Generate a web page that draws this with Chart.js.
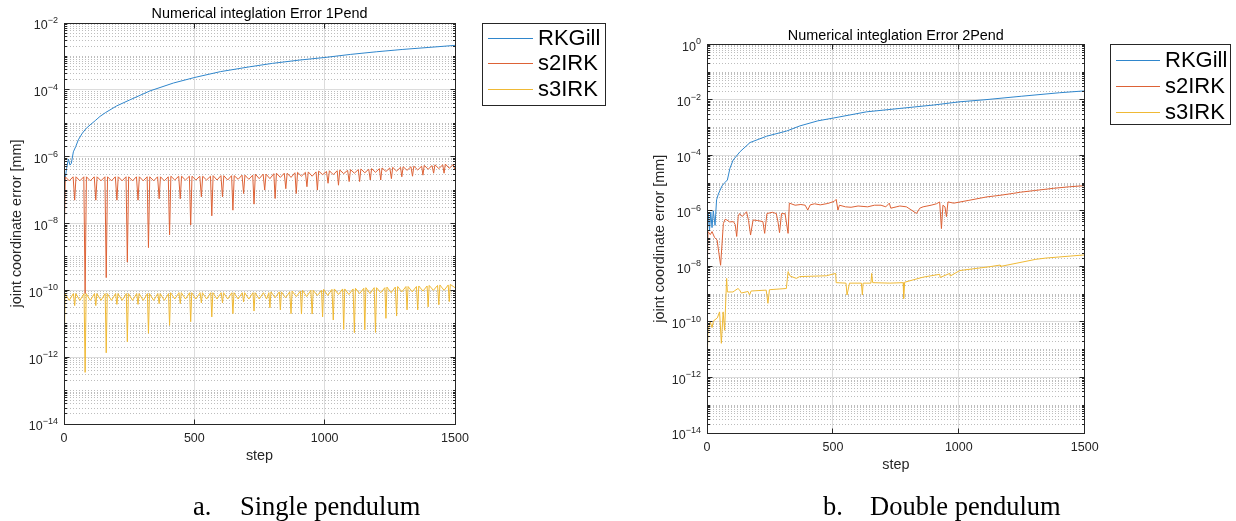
<!DOCTYPE html>
<html>
<head>
<meta charset="utf-8">
<script src="https://cdn.jsdelivr.net/npm/chart.js@4.4.1/dist/chart.umd.min.js"></script>
<style>
  html, body { margin: 0; padding: 0; background: #fff; }
  #wrap { position: relative; width: 1236px; height: 521px; overflow: hidden; }
  canvas { position: absolute; top: 0; }
  #single { left: 0; }
  #double { left: 618px; }
  .cap { position: absolute; top: 491px; font-family: "Liberation Serif", "Times New Roman", serif;
         font-size: 26.5px; line-height: 30px; color: #000; white-space: nowrap; }
</style>
</head>
<body>
<div id="wrap">
  <canvas id="single" width="618" height="521"></canvas>
  <canvas id="double" width="618" height="521"></canvas>
  <div class="cap" style="left:193px">a.</div>
  <div class="cap" style="left:240px">Single pendulum</div>
  <div class="cap" style="left:823px">b.</div>
  <div class="cap" style="left:870px">Double pendulum</div>
</div>
<script>
// --- data ---
const seriesNames = ["RKGill", "s2IRK", "s3IRK"];
const xTickValues = [0, 500, 1000, 1500];
const yExpSingle = [-14, -12, -10, -8, -6, -4, -2];
const yExpDouble = [-14, -12, -10, -8, -6, -4, -2, 0];

// a. single pendulum
const stepsRkSingle = [0, 4, 10, 17, 23, 28, 36, 45, 55, 70, 85, 100, 120, 138, 160, 202, 250, 330, 420, 502,
  600, 713, 800, 905, 1001, 1100, 1200, 1300, 1400, 1500];
const rkSingle = [1.3e-7, 2e-7, 4.5e-7, 8.5e-7, 5.6e-7, 6.3e-7, 1.4e-6, 2e-6, 3.2e-6, 5e-6, 7e-6, 8.9e-6, 1.2e-5,
  1.6e-5, 2.1e-5, 3.3e-5, 4.9e-5, 9.3e-5, 1.6e-4, 2.35e-4, 3.5e-4, 4.9e-4, 6.2e-4, 7.8e-4, 9.3e-4, 1.15e-3,
  1.38e-3, 1.62e-3, 1.86e-3, 2.14e-3];

const stepsS2Single = [
  0, 5, 20, 35, 41, 46, 61, 76, 81, 86, 101, 116, 122, 127, 142, 157, 162, 167, 182, 197,
  203, 208, 223, 238, 243, 248, 263, 278, 284, 289, 304, 319, 324, 329, 344, 359, 365, 370, 385, 400,
  405, 410, 425, 440, 446, 451, 466, 481, 486, 491, 506, 521, 527, 532, 547, 562, 567, 572, 587, 602,
  608, 613, 628, 643, 648, 653, 668, 683, 689, 694, 709, 724, 729, 734, 749, 764, 770, 775, 790, 805,
  810, 815, 830, 845, 851, 856, 871, 886, 891, 896, 911, 926, 932, 937, 952, 967, 972, 977, 992, 1007,
  1013, 1018, 1033, 1048, 1053, 1058, 1073, 1088, 1094, 1099, 1114, 1129, 1134, 1139, 1154, 1169,
  1175, 1180, 1195, 1210, 1215, 1220, 1235, 1250, 1256, 1261, 1276, 1291, 1296, 1301, 1316, 1331,
  1337, 1342, 1357, 1372, 1377, 1382, 1397, 1412, 1418, 1423, 1438, 1453, 1458, 1463, 1478, 1493, 1500];
const s2Single = [
  1.6e-9, 2.5e-7, 1.9e-7, 2.5e-7, 5e-8, 2.5e-7, 1.9e-7, 2.5e-7, 8e-11, 2.5e-7, 1.9e-7, 2.5e-7,
  5e-8, 2.5e-7, 1.9e-7, 2.5e-7, 2.4e-10, 2.5e-7, 1.9e-7, 2.5e-7, 5e-8, 2.5e-7, 1.9e-7, 2.5e-7,
  7e-10, 2.5e-7, 1.9e-7, 2.5e-7, 5e-8, 2.5e-7, 1.9e-7, 2.5e-7, 1.9e-9, 2.5e-7, 1.9e-7, 2.5e-7,
  5.5e-8, 2.5e-7, 1.9e-7, 2.5e-7, 4.6e-9, 2.6e-7, 2e-7, 2.6e-7, 5.5e-8, 2.6e-7, 2e-7, 2.6e-7,
  9e-9, 2.6e-7, 2e-7, 2.6e-7, 6.3e-8, 2.6e-7, 2e-7, 2.6e-7, 1.7e-8, 2.7e-7, 2e-7, 2.7e-7,
  6.3e-8, 2.7e-7, 2e-7, 2.7e-7, 2.5e-8, 2.7e-7, 2.1e-7, 2.8e-7, 7.9e-8, 2.8e-7, 2.1e-7, 2.8e-7,
  3.8e-8, 3e-7, 2.2e-7, 3e-7, 1e-7, 3e-7, 2.2e-7, 3.1e-7, 5.6e-8, 3.2e-7, 2.4e-7, 3.2e-7,
  1.1e-7, 3.2e-7, 2.4e-7, 3.3e-7, 7.9e-8, 3.4e-7, 2.6e-7, 3.4e-7, 1.26e-7, 3.5e-7, 2.6e-7, 3.5e-7,
  1e-7, 3.7e-7, 2.9e-7, 3.6e-7, 1.6e-7, 3.8e-7, 2.9e-7, 3.8e-7, 1.4e-7, 4e-7, 3.1e-7, 3.9e-7,
  1.8e-7, 4.1e-7, 3.2e-7, 4.1e-7, 1.8e-7, 4.3e-7, 3.3e-7, 4.2e-7, 2e-7, 4.4e-7, 3.4e-7, 4.4e-7,
  2e-7, 4.6e-7, 3.6e-7, 4.6e-7, 2.2e-7, 4.8e-7, 3.7e-7, 4.8e-7, 2.5e-7, 5e-7, 3.9e-7, 5e-7,
  2.6e-7, 5.2e-7, 4e-7, 5.2e-7, 2.8e-7, 5.5e-7, 4.2e-7, 5.4e-7, 3.2e-7, 5.7e-7, 4.4e-7, 5.7e-7,
  3.2e-7, 6e-7, 4.5e-7, 5.8e-7, 4e-7];

const stepsS3Single = [
  0, 4, 20, 36, 41, 45, 61, 77, 81, 85, 101, 117, 122, 126, 142, 158, 162, 166, 182, 198,
  203, 207, 223, 239, 243, 247, 263, 279, 284, 288, 304, 320, 324, 328, 344, 360, 365, 369, 385, 401,
  405, 409, 425, 441, 446, 450, 466, 482, 486, 490, 506, 522, 527, 531, 547, 563, 567, 571, 587, 603,
  608, 612, 628, 644, 648, 652, 668, 684, 689, 693, 709, 725, 729, 733, 749, 765, 777, 786,
  790, 794, 810, 826, 830, 834, 850, 866, 871, 875, 891, 907, 911, 915, 931, 947, 952, 956, 972, 988,
  992, 996, 1012, 1028, 1033, 1037, 1053, 1069, 1073, 1077, 1093, 1109, 1114, 1118, 1134, 1150,
  1154, 1158, 1174, 1190, 1195, 1199, 1215, 1231, 1235, 1239, 1255, 1271, 1276, 1280, 1296, 1312,
  1316, 1320, 1336, 1352, 1357, 1361, 1377, 1393, 1397, 1401, 1417, 1433, 1438, 1442, 1458, 1474,
  1478, 1482, 1500];
const s3Single = [
  3e-13, 8e-11, 5e-11, 8e-11, 3.5e-11, 8e-11, 5e-11, 8e-11, 3.5e-13, 8e-11, 5e-11, 8e-11,
  3.5e-11, 8e-11, 5e-11, 8e-11, 1.35e-12, 8e-11, 5e-11, 8e-11, 3.8e-11, 8e-11, 5e-11, 8e-11,
  2.9e-12, 8e-11, 5e-11, 8e-11, 3.8e-11, 8e-11, 5e-11, 8e-11, 5.2e-12, 8e-11, 5e-11, 8e-11,
  4e-11, 8e-11, 5e-11, 8e-11, 9e-12, 8.5e-11, 5.5e-11, 8.5e-11, 4e-11, 8.5e-11, 5.5e-11, 8.5e-11,
  1.15e-11, 8.5e-11, 5.5e-11, 8.5e-11, 4.2e-11, 8.5e-11, 5.5e-11, 8.5e-11, 1.6e-11, 8.5e-11, 5.5e-11, 8.5e-11,
  4.2e-11, 8.5e-11, 5.5e-11, 8.5e-11, 2e-11, 8.5e-11, 5.5e-11, 8.5e-11, 4.5e-11, 8.5e-11, 5.5e-11, 8.5e-11,
  2.4e-11, 8.5e-11, 5.5e-11, 8.5e-11, 5.5e-11, 8.5e-11,
  3e-11, 9e-11, 6e-11, 9e-11, 2.6e-11, 9e-11, 6e-11, 9e-11, 2e-11, 9.5e-11, 6.5e-11, 9.5e-11,
  1.95e-11, 1e-10, 6.5e-11, 1e-10, 1.95e-11, 1e-10, 7e-11, 1e-10, 1.6e-11, 1.07e-10, 7e-11, 1.07e-10,
  1.3e-11, 1.1e-10, 7.5e-11, 1.1e-10, 6.8e-12, 1.1e-10, 7.5e-11, 1.1e-10, 5.4e-12, 1.15e-10, 8e-11, 1.15e-10,
  6.6e-12, 1.2e-10, 8e-11, 1.2e-10, 5.5e-12, 1.2e-10, 8.5e-11, 1.2e-10, 1.45e-11, 1.25e-10, 8.5e-11, 1.25e-10,
  1.7e-11, 1.3e-10, 9e-11, 1.3e-10, 2.6e-11, 1.3e-10, 9e-11, 1.3e-10, 2.6e-11, 1.35e-10, 9.5e-11, 1.35e-10,
  3.2e-11, 1.4e-10, 1e-10, 1.4e-10, 3.7e-11, 1.45e-10, 1e-10, 1.45e-10, 4.6e-11, 1.5e-10, 1.2e-10];

// b. double pendulum
const stepsRkDouble = [0, 5, 10, 15, 20, 25, 32, 38, 45, 52, 60, 71, 81, 91, 104, 131, 171, 237, 316, 369,
  440, 501, 634, 766, 900, 1004, 1100, 1250, 1400, 1500];
const rkDouble = [1e-7, 8e-7, 2e-7, 9e-7, 2.5e-7, 1e-6, 3e-7, 2.5e-6, 4e-6, 5.6e-6, 8e-6, 1.05e-5, 1.3e-5,
  3.4e-5, 6.8e-5, 1.35e-4, 2.9e-4, 4.9e-4, 7.5e-4, 1.15e-3, 1.75e-3, 2.2e-3, 3.7e-3, 4.9e-3, 6.5e-3,
  8.5e-3, 1e-2, 1.35e-2, 1.8e-2, 2.1e-2];

const stepsS2Double = [0, 4, 13, 20, 30, 40, 54, 65, 72, 79, 90, 105, 112, 118, 124, 129, 140, 157, 165, 173,
  183, 200, 222, 229, 238, 260, 275, 282, 288, 296, 310, 322, 327, 350, 373, 390, 400, 410, 427, 450,
  480, 505, 513, 520, 526, 550, 572, 600, 638, 665, 691, 710, 724, 730, 766, 792, 810, 832, 845, 858,
  890, 911, 924, 931, 937, 945, 951, 957, 980, 1040, 1112, 1160, 1218, 1244, 1300, 1376, 1440, 1500];
const s2Double = [2.1e-9, 1.8e-7, 1.4e-7, 1.8e-7, 1.1e-7, 9e-8, 1.1e-8, 3.5e-7, 5e-7, 4.7e-7,
  4e-7, 4.1e-7, 3.2e-7, 1.2e-7, 6.3e-7, 8e-7, 6.3e-7, 9.3e-7, 4.5e-7, 1.35e-7,
  4.7e-7, 4.5e-7, 4.1e-7, 1.55e-7, 8e-7, 8.9e-7, 8e-7, 4e-7, 1.65e-7, 8e-7,
  7.9e-7, 1.55e-7, 1.9e-6, 1.6e-6, 1.7e-6, 1.6e-6, 1.07e-6, 1.65e-6, 1.8e-6, 1.65e-6,
  1.85e-6, 2.2e-6, 2.6e-6, 1.07e-6, 1.6e-6, 1.4e-6, 1.35e-6, 1.5e-6, 1.4e-6, 1.6e-6,
  1.6e-6, 1.4e-6, 1.9e-6, 1.25e-6, 1.5e-6, 1.4e-6, 1.1e-6, 8.1e-7, 1.25e-6, 1.4e-6,
  1.6e-6, 1.8e-6, 2.1e-6, 2.3e-7, 1.6e-6, 1.4e-6, 6.2e-7, 2.1e-6, 1.9e-6, 2.4e-6,
  3.2e-6, 3.6e-6, 4.3e-6, 4.7e-6, 5.4e-6, 6.5e-6, 7.4e-6, 8.1e-6];

const stepsS3Double = [0, 2, 4, 13, 20, 26, 32, 41, 50, 57, 64, 70, 78, 81, 103, 123, 130, 136, 163, 169,
  175, 235, 242, 248, 315, 322, 330, 355, 368, 474, 511, 513, 552, 556, 566, 613, 617, 620, 651, 654,
  658, 726, 779, 781, 785, 858, 924, 926, 964, 966, 1004, 1124, 1164, 1166, 1306, 1346, 1500];
const s3Double = [4e-13, 1e-11, 5.1e-11, 1e-10, 6.3e-11, 1.1e-10, 1.2e-10, 1.4e-10, 2.3e-10, 1.7e-11,
  2.3e-10, 5e-11, 3.7e-9, 1.2e-9, 1.2e-9, 1.6e-9, 1.4e-9, 1.1e-9, 1.25e-9, 9.3e-10,
  1.3e-9, 1.4e-9, 4.7e-10, 1.45e-9, 1.6e-9, 6.5e-9, 4.5e-9, 3.7e-9, 4.3e-9, 4.6e-9,
  5.6e-9, 2.6e-9, 2.5e-9, 9.3e-10, 2.5e-9, 2.5e-9, 9.3e-10, 2.5e-9, 2.5e-9, 5.6e-9,
  2.6e-9, 2.5e-9, 2.6e-9, 7e-10, 2.7e-9, 4.1e-9, 5.2e-9, 4e-9, 5.6e-9, 4.5e-9,
  7.1e-9, 9.8e-9, 1.12e-8, 1e-8, 1.8e-8, 2e-8, 2.6e-8];

// --- drawing ---
const SANS = '"Liberation Sans", Arial, Helvetica, sans-serif';
const INK = "#262626";
const lineColors = ["#2f86cc", "#dd6236", "#efb935"];
const pairs = (xs, ys) => xs.map((x, i) => ({ x: x, y: ys[i] }));
const align = v => Math.round(v - 0.5) + 0.5;

// MATLAB-like box, minor grid, ticks, labels and legend
function axesPlugin(cfg) {
  const lo = cfg.yExps[0], hi = cfg.yExps[cfg.yExps.length - 1];
  const minorValues = [];
  for (let e = lo; e < hi; e++) {
    for (let m = 1; m < 10; m++) {
      if (m === 1 && cfg.yExps.includes(e)) continue;
      minorValues.push(m * Math.pow(10, e));
    }
  }
  return {
    id: "matlabAxes",
    beforeDatasetsDraw(chart) {
      const { ctx, chartArea: a } = chart;
      const y = chart.scales.y;
      ctx.save();
      ctx.strokeStyle = "#bdbdbd";
      ctx.lineWidth = 1;
      ctx.setLineDash([1, 2]);
      minorValues.forEach(v => {
        const py = align(y.getPixelForValue(v));
        ctx.beginPath();
        ctx.moveTo(a.left, py);
        ctx.lineTo(a.right, py);
        ctx.stroke();
      });
      ctx.restore();
    },
    afterDraw(chart) {
      const { ctx, chartArea: a } = chart;
      const x = chart.scales.x, y = chart.scales.y;
      const L = align(a.left), R = align(a.right), T = align(a.top), B = align(a.bottom);
      ctx.save();
      ctx.setLineDash([]);

      // box
      ctx.strokeStyle = INK;
      ctx.lineWidth = 1;
      ctx.strokeRect(L, T, R - L, B - T);

      // inward ticks
      ctx.beginPath();
      cfg.yExps.forEach(e => {
        const py = align(y.getPixelForValue(Math.pow(10, e)));
        ctx.moveTo(L, py); ctx.lineTo(L + 5, py);
        ctx.moveTo(R, py); ctx.lineTo(R - 5, py);
      });
      minorValues.forEach(v => {
        const py = align(y.getPixelForValue(v));
        ctx.moveTo(L, py); ctx.lineTo(L + 2.5, py);
        ctx.moveTo(R, py); ctx.lineTo(R - 2.5, py);
      });
      xTickValues.forEach(v => {
        const px = align(x.getPixelForValue(v));
        ctx.moveTo(px, B); ctx.lineTo(px, B - 5);
        ctx.moveTo(px, T); ctx.lineTo(px, T + 5);
      });
      ctx.stroke();

      // y tick labels 10^n
      ctx.fillStyle = INK;
      ctx.textAlign = "right";
      ctx.textBaseline = "middle";
      cfg.yExps.forEach(e => {
        const py = y.getPixelForValue(Math.pow(10, e));
        const sup = e < 0 ? "\u2212" + Math.abs(e) : String(e);
        ctx.font = "9px " + SANS;
        const sw = ctx.measureText(sup).width;
        ctx.fillText(sup, a.left - 6, py - 2.5);
        ctx.font = "12.5px " + SANS;
        ctx.fillText("10", a.left - 6 - sw, py + 3);
      });

      // x tick labels
      ctx.textAlign = "center";
      ctx.font = "12.5px " + SANS;
      xTickValues.forEach(v => ctx.fillText(String(v), x.getPixelForValue(v), a.bottom + 14.5));

      // title and axis titles
      const cx = (a.left + a.right) / 2;
      ctx.fillStyle = "#000";
      ctx.font = "14.4px " + SANS;
      ctx.fillText(cfg.title, cx, cfg.titleY);
      ctx.fillStyle = INK;
      ctx.fillText("step", cx, a.bottom + 32.5);
      ctx.save();
      ctx.translate(a.left - 47, (a.top + a.bottom) / 2);
      ctx.rotate(-Math.PI / 2);
      ctx.fillText("joint coordinate error [mm]", 0, 0);
      ctx.restore();

      // legend box with one sample line per series
      const lg = cfg.legend;
      ctx.fillStyle = "#fff";
      ctx.fillRect(lg.x, lg.y, lg.w, lg.h);
      ctx.strokeStyle = INK;
      ctx.strokeRect(lg.x + 0.5, lg.y + 0.5, lg.w, lg.h);
      ctx.textAlign = "left";
      ctx.font = "22px " + SANS;
      for (let i = 0; i < seriesNames.length; i++) {
        const ry = Math.round(lg.rows[i]);
        ctx.fillStyle = lineColors[i];
        ctx.fillRect(lg.lineX1, ry, lg.lineX2 - lg.lineX1, 1);
        ctx.fillStyle = "#000";
        ctx.fillText(seriesNames[i], lg.textX, lg.rows[i] + 1);
      }
      ctx.restore();
    }
  };
}

function makeChart(id, cfg) {
  const lo = cfg.yExps[0], hi = cfg.yExps[cfg.yExps.length - 1];
  return new Chart(document.getElementById(id), {
    type: "line",
    data: {
      datasets: [
        { label: seriesNames[0], data: pairs(cfg.rkSteps, cfg.rk), borderColor: lineColors[0], order: 2 },
        { label: seriesNames[1], data: pairs(cfg.s2Steps, cfg.s2), borderColor: lineColors[1], order: 1 },
        { label: seriesNames[2], data: pairs(cfg.s3Steps, cfg.s3), borderColor: lineColors[2], order: 0 }
      ]
    },
    options: {
      responsive: false,
      animation: false,
      events: [],
      elements: { point: { radius: 0 }, line: { borderWidth: 1, tension: 0 } },
      layout: { padding: { top: cfg.top, right: cfg.right, left: 0, bottom: 0 } },
      plugins: { legend: { display: false }, tooltip: { enabled: false }, title: { display: false } },
      scales: {
        x: {
          type: "linear", min: 0, max: 1500,
          ticks: { display: false },
          grid: { color: "#dcdcdc", drawTicks: false },
          border: { display: false },
          afterBuildTicks: s => { s.ticks = xTickValues.map(v => ({ value: v })); },
          afterFit: s => { s.height = cfg.xAxisH; }
        },
        y: {
          type: "logarithmic", min: Math.pow(10, lo), max: Math.pow(10, hi),
          ticks: { display: false },
          grid: { color: "#dcdcdc", drawTicks: false },
          border: { display: false },
          afterBuildTicks: s => { s.ticks = cfg.yExps.map(e => ({ value: Math.pow(10, e) })); },
          afterFit: s => { s.width = cfg.yAxisW; }
        }
      }
    },
    plugins: [axesPlugin(cfg)]
  });
}

makeChart("single", {
  title: "Numerical integlation Error 1Pend",
  yExps: yExpSingle,
  rkSteps: stepsRkSingle, rk: rkSingle,
  s2Steps: stepsS2Single, s2: s2Single,
  s3Steps: stepsS3Single, s3: s3Single,
  top: 23, right: 163, yAxisW: 64, xAxisH: 97, titleY: 14,
  legend: { x: 482, y: 23, w: 123, h: 82, lineX1: 488, lineX2: 533, textX: 538, rows: [37.5, 63, 88.5] }
});

makeChart("double", {
  title: "Numerical integlation Error 2Pend",
  yExps: yExpDouble,
  rkSteps: stepsRkDouble, rk: rkDouble,
  s2Steps: stepsS2Double, s2: s2Double,
  s3Steps: stepsS3Double, s3: s3Double,
  top: 44.3, right: 151.3, yAxisW: 89, xAxisH: 88, titleY: 36,
  legend: { x: 492, y: 44, w: 120, h: 80, lineX1: 498, lineX2: 542, textX: 547, rows: [59.5, 85.5, 111.5] }
});
</script>
</body>
</html>
